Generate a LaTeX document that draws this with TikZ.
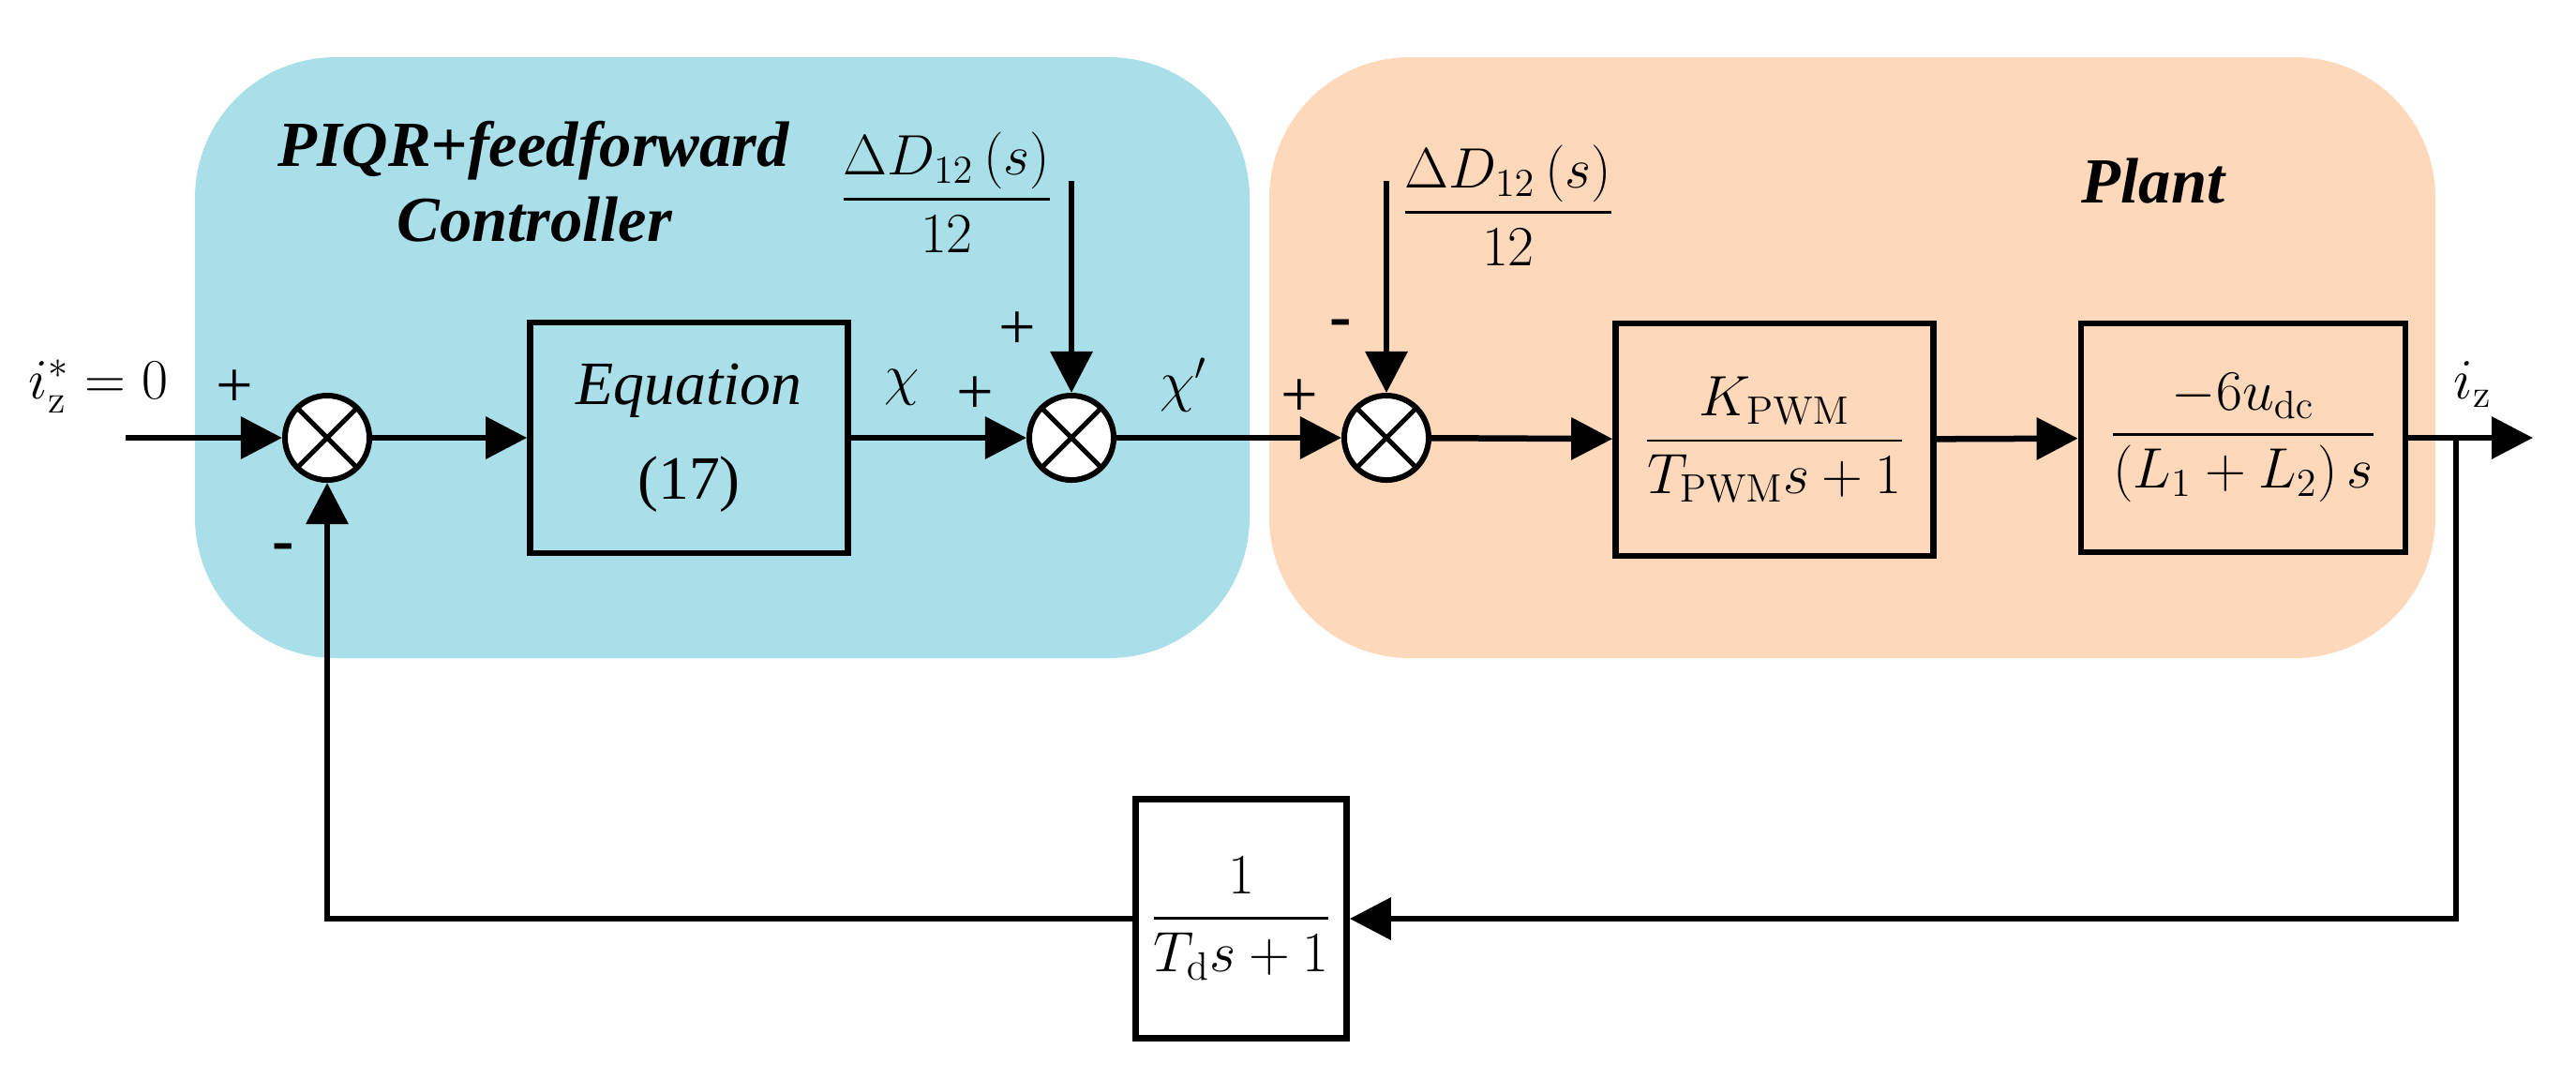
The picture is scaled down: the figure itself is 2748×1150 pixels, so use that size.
\documentclass[tikz,border=0pt]{standalone}
\usepackage{amsmath}
\usepackage[no-math]{fontspec}
\setmainfont{Liberation Serif}[
  BoldFont={Liberation Serif Bold},
  ItalicFont={Liberation Serif Italic},
  BoldItalicFont={Liberation Serif Bold Italic}]
\usetikzlibrary{arrows.meta, calc}

\definecolor{ctrlblue}{RGB}{168,223,233}
\definecolor{plantorange}{RGB}{253,216,187}

\tikzset{
  every node/.style={font=\fontsize{18.7}{22}\selectfont},
  wire/.style={line width=0.065cm},
  sig/.style={wire, -{Triangle[length=0.44cm, width=0.44cm]}},
  blk/.style={draw, line width=0.065cm, inner sep=0pt, align=center},
  summer/.style={circle, draw, fill=white, line width=0.06cm, minimum size=0.9cm, inner sep=0pt,
    path picture={\draw[line width=0.05cm]
      (path picture bounding box.north west) -- (path picture bounding box.south east)
      (path picture bounding box.north east) -- (path picture bounding box.south west);}},
  sgn/.style={font=\fontsize{20}{20}\selectfont},
  title/.style={font=\fontsize{19.5}{22}\selectfont\bfseries\itshape, anchor=base},
}

\begin{document}
\begin{tikzpicture}[x=0.01cm, y=-0.01cm]
  \useasboundingbox (0,0) rectangle (2748,1150);

  % shaded regions
  \fill[ctrlblue, rounded corners=1.5cm] (208,61) rectangle (1333,702);
  \fill[plantorange, rounded corners=1.5cm] (1354,61) rectangle (2598,702);
  \node[title] (ctrl title) at (569,177) {PIQR+feedforward};
  \node[title] (ctrl title 2) at (570,257) {Controller};
  \node[title] (plant title) at (2297,216) {Plant};

  % forward path
  \coordinate (in) at (134,467);
  \node (in label) at (105,412) {$i_{\mathrm{z}}^{*}=0$};
  \node[summer] (sum1) at (349,467) {};
  \node[blk, minimum width=3.39cm, minimum height=2.46cm, font=\fontsize{18.7}{28.7}\selectfont] (eq) at (735,467) {\textit{Equation}\\(17)};
  \node[summer] (sum2) at (1143,467) {};
  \node[summer] (sum3) at (1479,467) {};
  \node[blk, minimum width=3.39cm, minimum height=2.48cm] (pwm) at (1893,469) {$\dfrac{K_{\mathrm{PWM}}}{T_{\mathrm{PWM}}s+1}$};
  \node[blk, minimum width=3.46cm, minimum height=2.44cm] (arm) at (2393,467) {$\dfrac{-6u_{\mathrm{dc}}}{\left(L_1+L_2\right)s}$};
  \coordinate (branch) at (2620,467);
  \coordinate (out) at (2702,467);
  \node (out label) at (2638,410) {$i_{\mathrm{z}}$};

  \draw[sig] (in) -- (sum1);
  \draw[sig] (sum1) -- (eq);
  \draw[sig] (eq) -- (sum2);
  \draw[sig] (sum2) -- (sum3);
  \draw[sig] (sum3) -- (pwm);
  \draw[sig] (pwm) -- (arm);
  \draw[sig] (arm) -- (out);

  \node (chi) at (962,413) {$\chi$};
  \node (chi prime) at (1263,411) {$\chi'$};

  % disturbance inputs
  \node (dist1) at (1010,205) {$\dfrac{\Delta D_{12}\left(s\right)}{12}$};
  \coordinate (dist1 in) at (1143,193);
  \draw[sig] (dist1 in) -- (sum2);
  \node (dist2) at (1609,219) {$\dfrac{\Delta D_{12}\left(s\right)}{12}$};
  \coordinate (dist2 in) at (1479,193);
  \draw[sig] (dist2 in) -- (sum3);

  % feedback
  \node[blk, minimum width=2.25cm, minimum height=2.55cm] (filt) at (1324,980) {$\dfrac{1}{T_{\mathrm{d}}s+1}$};
  \draw[sig] (branch) |- (filt);
  \draw[sig] (filt) -| (sum1);

  % signs
  \node[sgn] (s1a) at (250,415) {+};
  \node[sgn] (s1b) at (302,590) {\textbf{-}};
  \node[sgn] (s2a) at (1040,422) {+};
  \node[sgn] (s2b) at (1085,353) {+};
  \node[sgn] (s3a) at (1386,425) {+};
  \node[sgn] (s3b) at (1430,351) {\textbf{-}};
\end{tikzpicture}
\end{document}
